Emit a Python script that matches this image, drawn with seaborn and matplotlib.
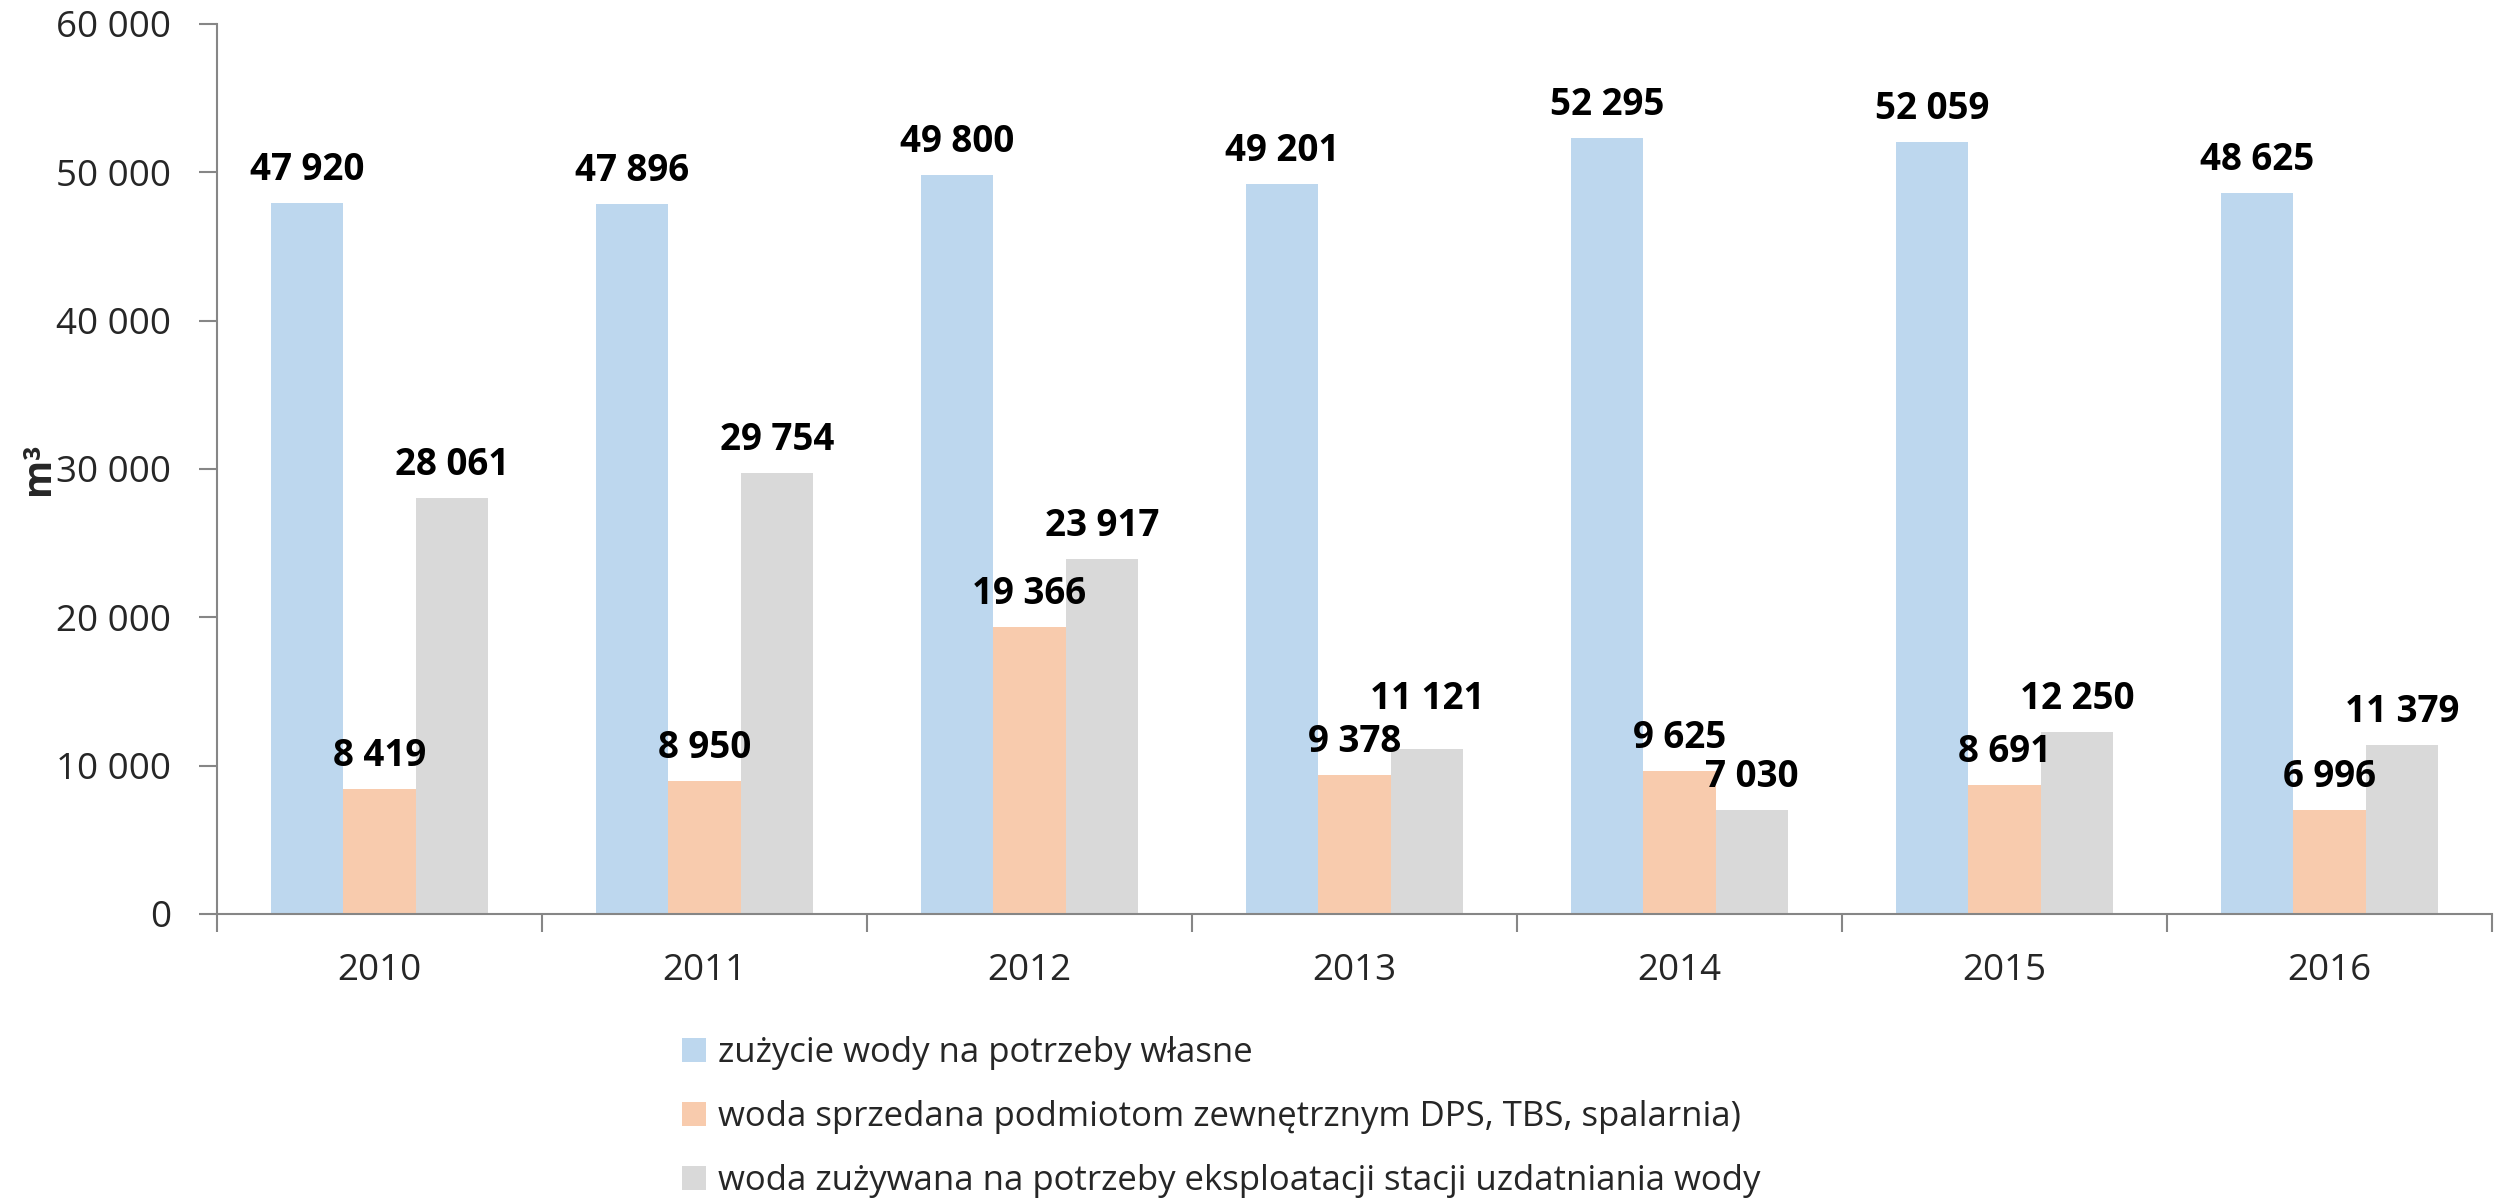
import matplotlib
matplotlib.use("Agg")
import matplotlib.pyplot as plt
import seaborn as sns
import pandas as pd
from matplotlib.patches import Patch
from matplotlib.ticker import FixedLocator, FuncFormatter

years = ["2010", "2011", "2012", "2013", "2014", "2015", "2016"]
series_names = [
    "zużycie wody na potrzeby własne",
    "woda sprzedana podmiotom zewnętrznym DPS, TBS, spalarnia)",
    "woda zużywana na potrzeby eksploatacji stacji uzdatniania wody",
]
own_use = [47920, 47896, 49800, 49201, 52295, 52059, 48625]
sold = [8419, 8950, 19366, 9378, 9625, 8691, 6996]
station = [28061, 29754, 23917, 11121, 7030, 12250, 11379]
colors = ["#BDD7EE", "#F8CBAD", "#D9D9D9"]

values = [own_use, sold, station]
rows = []
for name, vals in zip(series_names, values):
    for y, v in zip(years, vals):
        rows.append({"rok": y, "seria": name, "m3": v})
df = pd.DataFrame(rows)

sns.set_theme(style="white")
plt.rcParams["font.family"] = ["Open Sans", "DejaVu Sans"]

fig = plt.figure(figsize=(25.01, 11.99), dpi=100)
ax = fig.add_axes([0.0868, 0.2377, 0.9096, 0.7423])

sns.barplot(data=df, x="rok", y="m3", hue="seria", order=years,
            hue_order=series_names, palette=colors, saturation=1,
            width=0.667, ax=ax, legend=False, edgecolor="none")

ax.set_ylim(0, 60000)
ax.set_xlim(-0.5, len(years) - 0.5)

def fmt(v):
    return f"{int(v):,}".replace(",", " ")

raised = {(2, 3)}  # (series, year index) labels lifted higher to avoid overlap
for ci, cont in enumerate(ax.containers):
    vals = values[ci]
    normal = [fmt(v) if (ci, i) not in raised else "" for i, v in enumerate(vals)]
    high = [fmt(v) if (ci, i) in raised else "" for i, v in enumerate(vals)]
    ax.bar_label(cont, labels=normal, padding=10,
                 fontsize=26.5, fontweight="bold", color="black")
    if any(high):
        ax.bar_label(cont, labels=high, padding=22,
                     fontsize=26.5, fontweight="bold", color="black")

ax.set_yticks(range(0, 60001, 10000))
ax.yaxis.set_major_formatter(FuncFormatter(lambda v, p: fmt(v)))
ax.tick_params(axis="y", which="major", direction="out", length=13, width=1.5,
               color="#868686", labelsize=26.5, pad=20, left=True)
ax.tick_params(axis="x", which="major", length=0, labelsize=26.5, pad=28)
ax.xaxis.set_minor_locator(FixedLocator([i - 0.5 for i in range(len(years) + 1)]))
ax.tick_params(axis="x", which="minor", direction="out", length=13, width=1.5,
               color="#868686", bottom=True)

for s in ["top", "right"]:
    ax.spines[s].set_visible(False)
for s in ["left", "bottom"]:
    ax.spines[s].set_color("#868686")
    ax.spines[s].set_linewidth(1.5)

ax.set_xlabel("")
ax.set_ylabel("m³", fontsize=28, fontweight="bold")
ax.yaxis.set_label_coords(-0.070, 0.5)

handles = [Patch(facecolor=c, edgecolor="none") for c in colors]
fig.legend(handles, series_names, loc="upper left",
           bbox_to_anchor=(0.2727, 0.136), bbox_transform=fig.transFigure,
           frameon=False, fontsize=25, handlelength=0.7, handleheight=0.7,
           handletextpad=0.35, labelspacing=0.87, borderpad=0, borderaxespad=0)

fig.savefig("out.png", dpi=100)
